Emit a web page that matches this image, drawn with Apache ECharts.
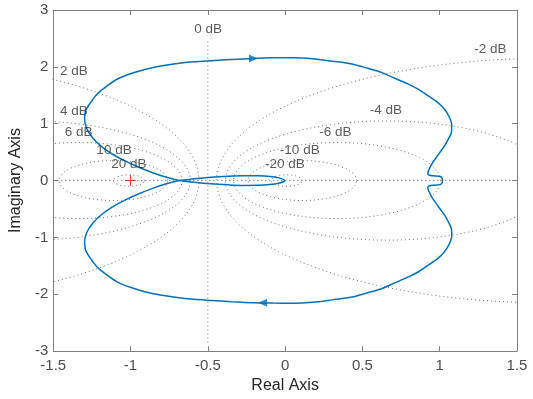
<!DOCTYPE html>
<html>
<head>
<meta charset="utf-8">
<script src="https://cdn.jsdelivr.net/npm/echarts@6/dist/echarts.min.js"></script>
<style>html,body{margin:0;padding:0;background:#fff}#c{width:533px;height:399px}</style>
</head>
<body>
<div id="c"></div>
<script>
// ---- data ----
const xTicks = [-1.5, -1, -0.5, 0, 0.5, 1, 1.5];
const yTicks = [-3, -2, -1, 0, 1, 2, 3];
const dbLevels = [2, 4, 6, 10, 20, -2, -4, -6, -10, -20];
const dbLabels = ['0 dB', '2 dB', '4 dB', '6 dB', '10 dB', '20 dB', '-2 dB', '-4 dB', '-6 dB', '-10 dB', '-20 dB'];
// positive-frequency branch: DC point -> bottom arc -> left -> crossing -> small loop -> origin
const posBranch = [
  [1.018, 0], [1.017, -0.033], [1.003, -0.071], [0.968, -0.082], [0.933, -0.092], [0.923, -0.128],
  [0.933, -0.207], [0.953, -0.311], [0.978, -0.406], [1.006, -0.514], [1.035, -0.623], [1.059, -0.745],
  [1.076, -0.849], [1.078, -0.976], [1.060, -1.127], [1.027, -1.266], [0.981, -1.387], [0.921, -1.497],
  [0.863, -1.604], [0.794, -1.700], [0.713, -1.795], [0.623, -1.903], [0.534, -1.974], [0.432, -2.050],
  [0.304, -2.099], [0.177, -2.142], [0.049, -2.158], [-0.078, -2.155], [-0.206, -2.148], [-0.347, -2.130],
  [-0.474, -2.109], [-0.589, -2.089], [-0.698, -2.059], [-0.806, -2.014], [-0.908, -1.955], [-0.997, -1.882],
  [-1.084, -1.786], [-1.147, -1.674], [-1.214, -1.526], [-1.259, -1.370], [-1.291, -1.222], [-1.297, -1.066],
  [-1.281, -0.901], [-1.243, -0.745], [-1.187, -0.597], [-1.119, -0.467], [-1.036, -0.345], [-0.946, -0.233],
  [-0.857, -0.137], [-0.768, -0.057], [-0.683, 0],
  [-0.589, 0.030], [-0.482, 0.057], [-0.366, 0.076], [-0.270, 0.085], [-0.174, 0.083], [-0.098, 0.071],
  [-0.040, 0.047], [-0.008, 0.016], [0, 0]
];
// negative-frequency branch: origin -> small loop -> crossing -> left -> top arc -> DC point
const negBranch = [
  [0, 0], [-0.008, -0.016], [-0.040, -0.047], [-0.098, -0.071], [-0.174, -0.083], [-0.270, -0.085],
  [-0.366, -0.076], [-0.482, -0.057], [-0.589, -0.030], [-0.683, 0],
  [-0.768, 0.057], [-0.857, 0.137], [-0.946, 0.233], [-1.036, 0.345], [-1.119, 0.467], [-1.187, 0.597],
  [-1.243, 0.745], [-1.281, 0.901], [-1.297, 1.066], [-1.291, 1.222], [-1.259, 1.370], [-1.214, 1.526],
  [-1.147, 1.674], [-1.084, 1.786], [-0.997, 1.882], [-0.908, 1.955], [-0.806, 2.014], [-0.698, 2.059],
  [-0.589, 2.089], [-0.474, 2.109], [-0.347, 2.130], [-0.206, 2.148], [-0.078, 2.158], [0.049, 2.160],
  [0.177, 2.142], [0.304, 2.099], [0.432, 2.050], [0.534, 1.974], [0.623, 1.903], [0.713, 1.795],
  [0.794, 1.700], [0.863, 1.604], [0.921, 1.497], [0.981, 1.387], [1.027, 1.266], [1.060, 1.127],
  [1.078, 0.976], [1.076, 0.849], [1.059, 0.745], [1.035, 0.623], [1.006, 0.514], [0.978, 0.406],
  [0.953, 0.311], [0.933, 0.207], [0.923, 0.128], [0.933, 0.092], [0.968, 0.082], [1.003, 0.071],
  [1.017, 0.033], [1.018, 0]
];
const arrowRight = [[-0.205, 2.148]];
const arrowLeft = [[-0.146, -2.15]];
const criticalPoint = [[-1, 0]];
const zeroDbLine = [[-0.5, -2.85], [-0.5, 2.48]];
const realAxisLine = [[-1.5, 0], [1.5, 0]];

// ---- layout (not data) ----
const labelPos = [
  [-0.588, 2.654], [-1.457, 1.93], [-1.457, 1.213], [-1.425, 0.849], [-1.221, 0.524], [-1.125, 0.281],
  [1.223, 2.307], [0.547, 1.236], [0.221, 0.849], [-0.034, 0.524], [-0.13, 0.281]
];

function mCircle(db) {
  const M = Math.pow(10, db / 20);
  const c = -M * M / (M * M - 1);
  const r = Math.abs(M / (M * M - 1));
  const pts = [];
  for (let i = 0; i <= 720; i++) {
    const t = i / 720 * 2 * Math.PI;
    pts.push([c + r * Math.cos(t), r * Math.sin(t)]);
  }
  return pts;
}

const gridStyle = { color: '#707070', width: 1, type: [1, 3] };
const blue = '#0072bd';
const axisGray = '#808080';
const font = 'Liberation Sans, Arial, sans-serif';

const series = [];
series.push({ type: 'line', data: realAxisLine, symbol: 'none', lineStyle: gridStyle, silent: true, z: 1 });
series.push({ type: 'line', data: zeroDbLine, symbol: 'none', lineStyle: gridStyle, silent: true, z: 1 });
dbLevels.forEach(db => {
  series.push({ type: 'line', data: mCircle(db), symbol: 'none', lineStyle: gridStyle, silent: true, clip: true, z: 1 });
});
series.push({ type: 'line', data: posBranch, symbol: 'none', smooth: 0.3, lineStyle: { color: blue, width: 1.5 }, z: 3 });
series.push({ type: 'line', data: negBranch, symbol: 'none', smooth: 0.3, lineStyle: { color: blue, width: 1.5 }, z: 3 });
series.push({ type: 'scatter', data: arrowRight, symbol: 'triangle', symbolSize: [8, 9], symbolRotate: -90, itemStyle: { color: blue }, z: 4 });
series.push({ type: 'scatter', data: arrowLeft, symbol: 'triangle', symbolSize: [8, 9], symbolRotate: 90, itemStyle: { color: blue }, z: 4 });
series.push({ type: 'scatter', data: criticalPoint, symbol: 'path://M0,4.5H10V5.5H0Z M4.5,0H5.5V10H4.5Z', symbolSize: 11, itemStyle: { color: '#ff0000' }, z: 4 });
series.push({
  type: 'scatter', z: 5, symbolSize: 0,
  data: labelPos.map((p, i) => ({ value: p, name: dbLabels[i] })),
  label: { show: true, position: [0, 0], align: 'left', verticalAlign: 'middle', formatter: p => p.name, color: '#333', fontSize: 13.5, fontFamily: font }
});

const baseAxis = {
  type: 'value', axisLine: { show: true, onZero: false, lineStyle: { color: axisGray, width: 1 } },
  axisTick: { show: true, inside: true, length: 5, lineStyle: { color: axisGray } },
  splitLine: { show: false }
};

const chart = echarts.init(document.getElementById('c'), null, { renderer: 'canvas' });
chart.setOption({
  animation: false,
  backgroundColor: '#fff',
  grid: { left: 47, right: 16, top: 10, bottom: 43 },
  xAxis: [
    Object.assign({}, baseAxis, {
      min: xTicks[0], max: xTicks[xTicks.length - 1], interval: 0.5, position: 'bottom',
      axisLabel: { color: '#4d4d4d', fontSize: 15, fontFamily: font, margin: 7 },
      name: 'Real Axis', nameLocation: 'middle', nameGap: 23,
      nameTextStyle: { color: '#262626', fontSize: 16, fontFamily: font }
    }),
    Object.assign({}, baseAxis, {
      min: xTicks[0], max: xTicks[xTicks.length - 1], interval: 0.5, position: 'top', axisLabel: { show: false }
    })
  ],
  yAxis: [
    Object.assign({}, baseAxis, {
      min: yTicks[0], max: yTicks[yTicks.length - 1], interval: 1, position: 'left',
      axisLabel: { color: '#4d4d4d', fontSize: 15, fontFamily: font, margin: 5 },
      name: 'Imaginary Axis', nameLocation: 'middle', nameGap: 16, nameRotate: 90,
      nameTextStyle: { color: '#262626', fontSize: 16, fontFamily: font }
    }),
    Object.assign({}, baseAxis, {
      min: yTicks[0], max: yTicks[yTicks.length - 1], interval: 1, position: 'right', axisLabel: { show: false }
    })
  ],
  series: series
});
</script>
</body>
</html>
